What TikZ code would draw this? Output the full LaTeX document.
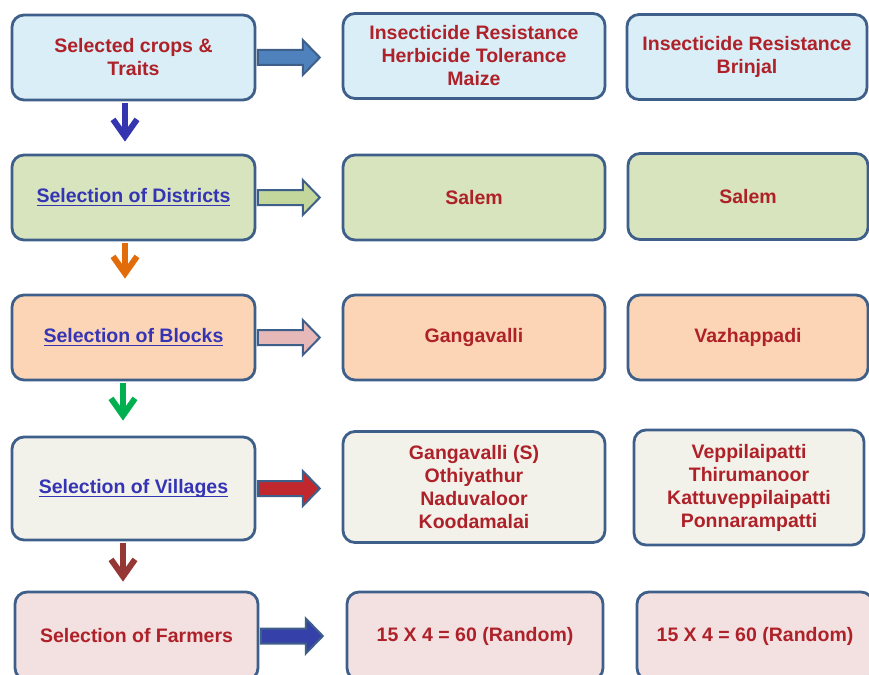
\documentclass[tikz,border=0pt]{standalone}
\usepackage{fontspec}
\setmainfont{Liberation Sans}
\usepackage{xcolor}
\usepackage{tikz}
\usetikzlibrary{arrows.meta}

\definecolor{framecol}{HTML}{3E5F8A}
\definecolor{txtred}{HTML}{AE2129}
\definecolor{linkblue}{HTML}{3434B4}
\definecolor{rowblue}{HTML}{DAEEF7}
\definecolor{rowgreen}{HTML}{D7E4BD}
\definecolor{rowpeach}{HTML}{FBD5B5}
\definecolor{rowcream}{HTML}{F3F2EA}
\definecolor{rowpink}{HTML}{F3E1E1}
\definecolor{arrblue}{HTML}{4F81BD}
\definecolor{arrgreen}{HTML}{C3D69B}
\definecolor{arrpink}{HTML}{E6B9B8}
\definecolor{arrred}{HTML}{C0282D}
\definecolor{arrnavy}{HTML}{3540A8}
\definecolor{downblue}{HTML}{3535B0}
\definecolor{downorange}{HTML}{E36C0A}
\definecolor{downgreen}{HTML}{00B050}
\definecolor{downred}{HTML}{953735}

\newsavebox{\linkbox}
\newcommand{\linktext}[1]{{\color{linkblue}\sbox{\linkbox}{#1}\rlap{\rule[-3.8pt]{\wd\linkbox}{1.6pt}}\usebox{\linkbox}}}
\newcommand{\fatarrow}[2]{\draw[harrow,fill=#2] ([xshift=1.4pt,yshift=7.5pt]#1.east) -- ++(45,0) -- ++(0,-10) -- ++(17,17.5) -- ++(-17,17.5) -- ++(0,-10) -- ++(-45,0) -- cycle;}

\begin{document}
\begin{tikzpicture}[x=1pt,y=-1pt,
	selbox/.style={draw=framecol,line width=2.8pt,rounded corners=12pt,align=center,text=txtred,
		font=\bfseries\fontsize{19.5}{23}\selectfont,inner sep=0pt},
	leftcol/.style={selbox,minimum width=243},
	midcol/.style={selbox,minimum width=262},
	harrow/.style={draw=framecol,line width=2pt,line join=miter},
	varrow/.style={line width=6pt,-{Straight Barb[length=17pt,width=24pt]}}]
	\useasboundingbox (0,0) rectangle (869,674);

	% left column
	\node[leftcol,fill=rowblue,minimum height=85] (sel1) at (133.5,57.5) {Selected crops \&\\Traits};
	\node[leftcol,fill=rowgreen,minimum height=85] (sel2) at (133.5,197.5) {\linktext{Selection of Districts}};
	\node[leftcol,fill=rowpeach,minimum height=85] (sel3) at (133.5,337.5) {\linktext{Selection of Blocks}};
	\node[leftcol,fill=rowcream,minimum height=103] (sel4) at (133.5,488.5) {\linktext{Selection of Villages}};
	\node[leftcol,fill=rowpink,minimum height=88] (sel5) at (136.5,636) {Selection of Farmers};

	% maize
	\node[midcol,fill=rowblue,minimum height=85] (maize1) at (474,56) {Insecticide Resistance\\Herbicide Tolerance\\Maize};
	\node[midcol,fill=rowgreen,minimum height=85] (maize2) at (474,197.5) {Salem};
	\node[midcol,fill=rowpeach,minimum height=85] (maize3) at (474,337.5) {Gangavalli};
	\node[midcol,fill=rowcream,minimum height=111] (maize4) at (474,487) {Gangavalli (S)\\Othiyathur\\Naduvaloor\\Koodamalai};
	\node[selbox,fill=rowpink,minimum width=256,minimum height=88] (maize5) at (475,636) {15 X 4 = 60 (Random)};

	% brinjal
	\node[selbox,fill=rowblue,minimum width=240,minimum height=85] (brin1) at (747,57) {Insecticide Resistance\\Brinjal};
	\node[selbox,fill=rowgreen,minimum width=240,minimum height=86] (brin2) at (748,196.5) {Salem};
	\node[selbox,fill=rowpeach,minimum width=240,minimum height=85] (brin3) at (748,337.5) {Vazhappadi};
	\node[selbox,fill=rowcream,minimum width=230,minimum height=115] (brin4) at (749,487.5) {Veppilaipatti\\Thirumanoor\\Kattuveppilaipatti\\Ponnarampatti};
	\node[selbox,fill=rowpink,minimum width=236,minimum height=88] (brin5) at (755,636) {15 X 4 = 60 (Random)};

	\fatarrow{sel1}{arrblue}
	\fatarrow{sel2}{arrgreen}
	\fatarrow{sel3}{arrpink}
	\fatarrow{sel4}{arrred}
	\fatarrow{sel5}{arrnavy}

	\draw[varrow,downblue] ([xshift=-8.5pt,yshift=-1.4pt]sel1.south) -- ([xshift=-8.5pt,yshift=12pt]sel2.north);
	\draw[varrow,downorange] ([xshift=-8.5pt,yshift=-1.4pt]sel2.south) -- ([xshift=-8.5pt,yshift=15pt]sel3.north);
	\draw[varrow,downgreen] ([xshift=-10.5pt,yshift=-1.4pt]sel3.south) -- ([xshift=-10.5pt,yshift=15pt]sel4.north);
	\draw[varrow,downred] ([xshift=-10.5pt,yshift=-1.4pt]sel4.south) -- ([xshift=-13.5pt,yshift=9pt]sel5.north);
\end{tikzpicture}
\end{document}
